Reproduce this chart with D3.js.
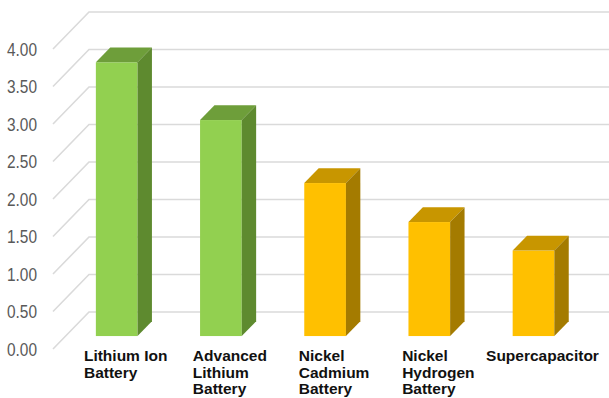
<!DOCTYPE html>
<html>
<head>
<meta charset="utf-8">
<script src="https://cdn.jsdelivr.net/npm/d3@7"></script>
<style>
  html, body { margin: 0; padding: 0; background: #fff; }
  svg { display: block; }
</style>
</head>
<body>
<svg id="chart" width="609" height="398"></svg>
<script>
// ---- data ----
const categories = ["Lithium Ion Battery", "Advanced Lithium Battery", "Nickel Cadmium Battery", "Nickel Hydrogen Battery", "Supercapacitor"];
const labelLines = [["Lithium Ion", "Battery"], ["Advanced", "Lithium", "Battery"], ["Nickel", "Cadmium", "Battery"], ["Nickel", "Hydrogen", "Battery"], ["Supercapacitor"]];
const values = [3.65, 2.88, 2.04, 1.52, 1.14];
const groups = ["lithium", "lithium", "nickel", "nickel", "nickel"];
const yTicks = [0, 0.5, 1, 1.5, 2, 2.5, 3, 3.5, 4];

// ---- layout ----
const W = 609, H = 398;
const DX = 36, DY = -37;           // full depth offset (oblique projection)
const Z0 = 0.35, Z1 = 0.75;        // bar front/back depth
const svg = d3.select("#chart");

const x = d3.scaleBand().domain(categories).range([52, 573]).paddingInner(0.6).paddingOuter(0.3);
const y = d3.scaleLinear().domain([0, 4]).range([349, 49]);

const palette = {
  lithium: { front: "#92d050", top: "#6e9e3a", side: "#5e8a2f" },
  nickel:  { front: "#ffc000", top: "#c89600", side: "#a47b00" }
};

// gridlines (side wall diagonal + back wall)
const gx0 = 53;
svg.append("g").selectAll("path").data(yTicks).join("path")
  .attr("d", v => `M${gx0},${y(v)} L${gx0 + DX},${y(v) + DY} L${W},${y(v) + DY}`)
  .attr("fill", "none").attr("stroke", "#dadada").attr("stroke-width", 1.6);

// y labels
svg.append("g").selectAll("text").data(yTicks).join("text")
  .attr("x", 37).attr("y", v => y(v) + 0.5).attr("dy", "0.35em")
  .attr("text-anchor", "end")
  .attr("font-family", "Liberation Sans, Arial, sans-serif")
  .attr("font-size", 18.5)
  .attr("fill", "#595959")
  .attr("textLength", 30).attr("lengthAdjust", "spacingAndGlyphs")
  .text(v => d3.format(".2f")(v));

// bars
const bw = x.bandwidth();
const dz = Z1 - Z0;
const bars = svg.append("g").selectAll("g").data(categories).join("g");
bars.each(function(c, i) {
  const g = d3.select(this);
  const col = palette[groups[i]];
  const x0 = x(c) + Z0 * DX;
  const yt = y(values[i]) + Z0 * DY;
  const yb = y(0) + Z0 * DY;
  const ox = dz * DX, oy = dz * DY;
  g.append("rect").attr("x", x0).attr("y", yt).attr("width", bw).attr("height", yb - yt).attr("fill", col.front);
  g.append("path").attr("d", `M${x0},${yt} L${x0 + bw},${yt} L${x0 + bw + ox},${yt + oy} L${x0 + ox},${yt + oy} Z`).attr("fill", col.top);
  g.append("path").attr("d", `M${x0 + bw},${yt} L${x0 + bw + ox},${yt + oy} L${x0 + bw + ox},${yb + oy} L${x0 + bw},${yb} Z`).attr("fill", col.side);
});

// category labels
const labels = svg.append("g").selectAll("text").data(categories).join("text")
  .attr("font-family", "Liberation Sans, Arial, sans-serif")
  .attr("font-weight", "bold")
  .attr("font-size", 15.5)
  .attr("fill", "#111");
labels.each(function(c, i) {
  const t = d3.select(this);
  labelLines[i].forEach((line, j) => {
    t.append("tspan").attr("dy", j === 0 ? 0 : 16.5).attr("x", 0).text(line);
  });
  const wmax = d3.max(t.selectAll("tspan").nodes(), n => n.getComputedTextLength());
  const cx = x(c) + Z0 * DX + bw / 2 + 9;
  const left = cx - wmax / 2;
  t.attr("y", 361);
  t.selectAll("tspan").attr("x", left);
});
</script>
</body>
</html>
